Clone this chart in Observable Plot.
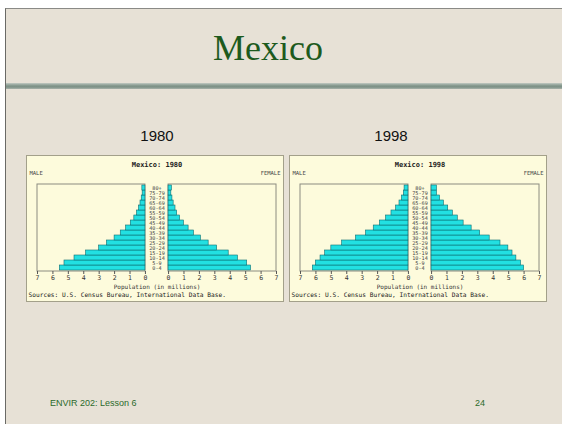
<!DOCTYPE html>
<html>
<head>
<meta charset="utf-8">
<script src="https://cdn.jsdelivr.net/npm/d3@7"></script>
<script src="https://cdn.jsdelivr.net/npm/@observablehq/plot@0.6"></script>
<style>
  html, body { margin: 0; padding: 0; background: #ffffff; }
  #slide { position: absolute; left: 5px; top: 8px; width: 557px; height: 416px;
    background: #e7e1d6; border-left: 1px solid #6a6a66; border-top: 1px solid #8a8a86; overflow: hidden; }
  .abs { position: absolute; white-space: nowrap; }
  #title { left: 0; width: 524px; text-align: center; top: 21px; font: 36px "Liberation Serif", serif; line-height: 36px; color: #1d5a1d; }
  #rule { left: 0; width: 557px; top: 74px; height: 6px;
    background: linear-gradient(to bottom, #c3cac3 0%, #8d9f95 35%, #7a8f84 65%, #aab4ac 100%); }
  .year { font: 15px "Liberation Sans", Arial, sans-serif; line-height: 15px; color: #111; text-align: center; width: 60px; top: 119px; }
  .panel { position: absolute; top: 147px; background: #fdfbdc; outline: 1px solid #a3a08a; }
  .foot { font: 9px "Liberation Sans", Arial, sans-serif; line-height: 9px; color: #2b6a2b; top: 390px; }
</style>
</head>
<body>
<div id="slide">
  <div id="title" class="abs">Mexico</div>
  <div id="rule" class="abs"></div>
  <div class="abs year" style="left:121px">1980</div>
  <div class="abs year" style="left:355px">1998</div>
  <div id="p1980" class="panel" style="left:21px"></div>
  <div id="p1998" class="panel" style="left:284px"></div>
  <div class="abs foot" style="left:44px">ENVIR 202: Lesson 6</div>
  <div class="abs foot" style="left:469px">24</div>
</div>
<script>
// Age groups (bottom to top)
const ages = ["0-4","5-9","10-14","15-19","20-24","25-29","30-34","35-39","40-44","45-49","50-54","55-59","60-64","65-69","70-74","75-79","80+"];
// Population in millions
const male1980   = [5.55, 5.25, 4.6, 3.85, 3.0, 2.5, 2.0, 1.6, 1.25, 0.95, 0.72, 0.55, 0.42, 0.32, 0.24, 0.18, 0.2];
const female1980 = [5.35, 5.1, 4.5, 3.9, 3.15, 2.6, 2.1, 1.65, 1.3, 1.0, 0.75, 0.56, 0.45, 0.33, 0.25, 0.18, 0.22];
const male1998   = [6.2, 6.0, 5.7, 5.4, 5.0, 4.3, 3.4, 2.75, 2.25, 1.85, 1.45, 1.1, 0.8, 0.58, 0.42, 0.3, 0.25];
const female1998 = [6.0, 5.8, 5.5, 5.25, 4.98, 4.47, 3.77, 3.15, 2.6, 2.08, 1.7, 1.38, 1.08, 0.8, 0.55, 0.35, 0.35];
const tickValues = [0, 1, 2, 3, 4, 5, 6, 7];
const maxPop = 7;
const gap = 0.75; // half-gap (in millions) holding the age labels

const mono = "DejaVu Sans Mono, monospace";

function pyramid(year, male, female) {
  const rows = ages.flatMap((a, i) => [
    {age: a, x1: -gap, x2: -gap - male[i]},
    {age: a, x1: gap, x2: gap + female[i]}
  ]);
  const halves = [{x1: -gap - maxPop, x2: -gap}, {x1: gap, x2: gap + maxPop}];
  const ticks = [...tickValues.map(v => -gap - v), ...tickValues.map(v => gap + v)];
  return Plot.plot({
    width: 256,
    height: 145,
    marginTop: 28,
    marginBottom: 30,
    marginLeft: 10,
    marginRight: 7,
    style: {background: "transparent", fontFamily: mono},
    x: {domain: [-gap - maxPop, gap + maxPop]},
    y: {type: "band", domain: ages.slice().reverse(), padding: 0, axis: null},
    marks: [
      Plot.barX(halves, {x1: "x1", x2: "x2", fill: "none", stroke: "#8c8c80", strokeWidth: 1}),
      Plot.barX(rows, {x1: "x1", x2: "x2", y: "age", fill: "#22e0e2", stroke: "#0e6e72", strokeWidth: 0.6}),
      Plot.text(ages, {y: d => d, text: d => d, frameAnchor: "middle", fontSize: 5.2, fill: "#444", fontFamily: mono}),
      Plot.axisX(ticks, {tickFormat: d => String(Math.round(Math.abs(d) - gap)), tickSize: 3, tickPadding: 1,
        fontSize: 6.5, stroke: "#555", fill: "#333", fontFamily: mono, label: null}),
      Plot.text([`Mexico: ${year}`], {frameAnchor: "top", lineAnchor: "middle", dy: -20, fontSize: 7, fontWeight: "bold", fill: "#222", fontFamily: mono}),
      Plot.text(["MALE"], {frameAnchor: "top-left", textAnchor: "start", lineAnchor: "middle", dx: -8, dy: -11, fontSize: 5.5, fill: "#444", fontFamily: mono}),
      Plot.text(["FEMALE"], {frameAnchor: "top-right", textAnchor: "end", lineAnchor: "middle", dx: 4, dy: -11, fontSize: 5.5, fill: "#444", fontFamily: mono}),
      Plot.text(["Population (in millions)"], {frameAnchor: "bottom", lineAnchor: "middle", dy: 16, fontSize: 6, fill: "#333", fontFamily: mono}),
      Plot.text(["Sources: U.S. Census Bureau, International Data Base."], {frameAnchor: "bottom-left", textAnchor: "start", lineAnchor: "middle", dx: -9, dy: 24, fontSize: 6.2, fill: "#222", fontFamily: mono})
    ]
  });
}

document.getElementById("p1980").appendChild(pyramid(1980, male1980, female1980));
document.getElementById("p1998").appendChild(pyramid(1998, male1998, female1998));
</script>
</body>
</html>
